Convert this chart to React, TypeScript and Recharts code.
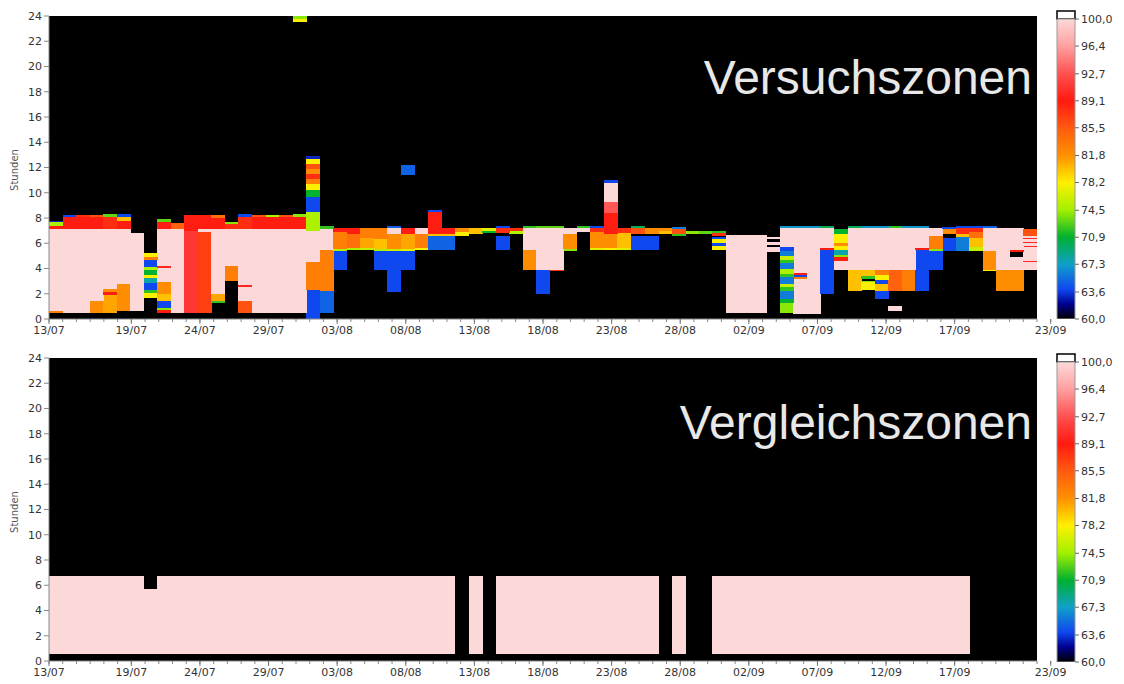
import React from "react";
import { BarChart, Bar, XAxis, YAxis, CartesianGrid, Cell, ReferenceArea } from "recharts";

// one entry per day, 13/07 .. 23/09
const dayLabels = [
  "13/07", "14/07", "15/07", "16/07", "17/07", "18/07", "19/07", "20/07", "21/07", "22/07",
  "23/07", "24/07", "25/07", "26/07", "27/07", "28/07", "29/07", "30/07", "31/07", "01/08",
  "02/08", "03/08", "04/08", "05/08", "06/08", "07/08", "08/08", "09/08", "10/08", "11/08",
  "12/08", "13/08", "14/08", "15/08", "16/08", "17/08", "18/08", "19/08", "20/08", "21/08",
  "22/08", "23/08", "24/08", "25/08", "26/08", "27/08", "28/08", "29/08", "30/08", "31/08",
  "01/09", "02/09", "03/09", "04/09", "05/09", "06/09", "07/09", "08/09", "09/09", "10/09",
  "11/09", "12/09", "13/09", "14/09", "15/09", "16/09", "17/09", "18/09", "19/09", "20/09",
  "21/09", "22/09", "23/09",
];

const xTickDays = [0, 6, 11, 16, 21, 26, 31, 36, 41, 46, 51, 56, 61, 66, 73];
const xTickLabels = ["13/07", "19/07", "24/07", "29/07", "03/08", "08/08", "13/08", "18/08", "23/08", "28/08", "02/09", "07/09", "12/09", "17/09", "23/09"];
const hourTicks = [0, 2, 4, 6, 8, 10, 12, 14, 16, 18, 20, 22, 24];
const colorTicks = [60, 63.6, 67.3, 70.9, 74.5, 78.2, 81.8, 85.5, 89.1, 92.7, 96.4, 100];

// colour scale of the legend bar
const scaleStops: [number, string][] = [
  [60, "#000000"],
  [62, "#000090"],
  [64, "#1048f0"],
  [67.3, "#10a0c8"],
  [70.9, "#00b030"],
  [74.5, "#a0f000"],
  [78.2, "#fff000"],
  [81.8, "#ff9000"],
  [85.5, "#ff5a10"],
  [89.1, "#ff1a10"],
  [92.7, "#ff5050"],
  [96.4, "#ffa0a0"],
  [100, "#fcd8d8"],
];

type Seg = [number, number | null]; // [upper hour, value] from the bottom up, null = no data

// Versuchszonen
const versuchSegs: Seg[][] = [
  [[0.5, null], [0.65, 83], [7.1, 100], [7.4, 89], [7.65, 75], [7.8, 63]],
  [[0.45, null], [7.1, 100], [8.1, 89], [8.25, 64]],
  [[0.45, null], [7.1, 100], [8.1, 89], [8.25, 88]],
  [[0.45, null], [1.4, 82], [7.1, 100], [8.1, 89], [8.25, 86]],
  [[0.45, null], [1.9, 81], [2.1, 89], [2.4, 82], [7.1, 100], [8.1, 88], [8.35, 73]],
  [[0.6, null], [2.8, 82], [7.1, 100], [7.8, 89], [8.1, 80], [8.3, 64]],
  [[0.6, null], [6.8, 100]],
  [[1.7, null], [2.05, 78], [2.3, 72], [2.85, 64], [3.25, 68], [3.5, 78], [3.85, 71], [4.15, 75], [4.65, 64], [4.9, 83], [5.2, 78]],
  [[0.5, null], [0.7, 89], [0.9, 74], [1.4, 64], [2.0, 80], [2.9, 82], [4.05, 100], [4.2, 90], [7.1, 100], [7.7, 89], [7.9, 73]],
  [[0.5, null], [7.1, 100], [7.6, 85]],
  [[0.5, null], [7.0, 91], [8.2, 89]],
  [[0.5, null], [6.9, 87], [7.1, 100], [8.2, 89]],
  [[1.3, null], [1.45, 72], [2.0, 81], [7.1, 100], [8.0, 89], [8.2, 84]],
  [[3.0, null], [4.2, 83], [7.1, 100], [7.5, 88], [7.7, 74]],
  [[0.5, null], [1.4, 86], [2.55, 100], [2.7, 90], [7.1, 100], [8.1, 88], [8.3, 64]],
  [[0.45, null], [7.1, 100], [8.1, 89], [8.25, 86]],
  [[0.45, null], [7.1, 100], [8.1, 89], [8.25, 75]],
  [[0.45, null], [7.1, 100], [8.1, 89], [8.2, 86]],
  [[0.45, null], [7.1, 100], [8.1, 89], [8.3, 74], [23.5, null], [23.8, 78], [24, 74]],
  [[2.3, 64], [4.5, 83], [7.0, 100], [8.5, 75], [9.7, 64], [10.2, 71], [10.7, 78], [11.1, 83], [11.5, 88], [11.9, 82], [12.3, 86], [12.65, 78], [12.95, 63]],
  [[0.5, null], [2.2, 65], [5.5, 83], [7.1, 100], [7.35, 72]],
  [[3.9, null], [5.4, 64], [5.55, 75], [6.9, 83], [7.2, 89]],
  [[5.5, null], [5.6, 75], [6.7, 84], [7.2, 89]],
  [[5.5, null], [5.6, 76], [6.4, 81], [7.2, 83]],
  [[3.9, null], [5.4, 64], [5.55, 75], [6.3, 80], [7.2, 83]],
  [[2.1, null], [5.4, 64], [5.55, 76], [6.7, 82], [7.2, 100], [7.4, 65]],
  [[3.9, null], [5.4, 64], [5.55, 77], [6.7, 81], [7.2, 89], [11.4, null], [12.2, 65]],
  [[5.5, null], [5.6, 78], [6.7, 83], [7.2, 100]],
  [[5.5, null], [6.6, 65], [6.7, 80], [8.5, 89], [8.6, 64]],
  [[5.5, null], [6.6, 65], [6.7, 80], [7.2, 89]],
  [[6.6, null], [6.9, 78], [7.2, 82]],
  [[6.7, null], [7.2, 80]],
  [[6.8, null], [7.0, 71], [7.2, 77]],
  [[5.5, null], [6.6, 64], [6.8, null], [7.2, 88], [7.35, 64]],
  [[6.7, null], [7.0, 75], [7.2, 88]],
  [[3.9, null], [5.5, 82], [7.2, 100], [7.35, 72]],
  [[2.0, null], [3.9, 64], [7.2, 100], [7.35, 73]],
  [[3.8, null], [3.9, 88], [7.2, 100], [7.35, 73]],
  [[5.4, null], [5.55, 74], [6.7, 82], [7.2, 100]],
  [[6.9, null], [7.2, 100], [7.35, 72]],
  [[5.5, null], [5.6, 77], [6.9, 82], [7.2, 88], [7.35, 64]],
  [[5.5, null], [5.6, 78], [6.7, 82], [8.4, 89], [9.3, 93], [10.8, 100], [11.0, 64]],
  [[5.5, null], [5.6, 77], [6.8, 80], [7.2, 88]],
  [[5.5, null], [6.6, 64], [6.7, null], [7.2, 86], [7.35, 70]],
  [[5.5, null], [6.6, 64], [6.7, null], [7.2, 82]],
  [[6.7, null], [7.0, 80], [7.2, 82]],
  [[6.6, null], [6.7, 72], [7.1, 86], [7.3, 66]],
  [[6.7, null], [7.0, 74]],
  [[6.7, null], [7.0, 73]],
  [[5.5, null], [5.8, 78], [6.0, 64], [6.3, 78], [6.5, 64], [6.6, null], [6.8, 88], [7.0, 72]],
  [[0.5, null], [6.66, 100]],
  [[0.5, null], [6.66, 100]],
  [[0.5, null], [6.66, 100]],
  [[5.3, null], [5.7, 100], [5.85, null], [6.1, 100], [6.3, null], [6.5, 100]],
  [[0.5, null], [1.3, 74], [1.6, 71], [2.2, 66], [2.5, 72], [2.8, 76], [3.3, 66], [3.6, 72], [4.0, 75], [4.4, 66], [4.7, 72], [5.0, 76], [5.4, 66], [5.7, 64], [7.2, 100], [7.35, 67]],
  [[0.4, null], [3.2, 100], [3.35, 83], [3.5, 64], [3.65, 89], [7.2, 100], [7.35, 67]],
  [[0.4, null], [7.2, 100], [7.35, 67]],
  [[2.0, null], [5.5, 64], [5.6, 89], [7.2, 100], [7.35, 70]],
  [[3.9, null], [4.6, 100], [4.9, 89], [5.1, 74], [5.5, 68], [5.8, 78], [6.0, 82], [6.7, 78], [7.1, 71]],
  [[2.2, null], [3.9, 80], [7.2, 100], [7.35, 70]],
  [[2.3, null], [2.9, 78], [3.0, 74], [3.2, null], [3.4, 72], [3.9, 80], [7.2, 100], [7.35, 67]],
  [[1.6, null], [2.2, 64], [2.8, 80], [3.1, 64], [3.5, 78], [3.9, 83], [7.2, 100], [7.35, 67]],
  [[0.6, null], [1.0, 100], [2.2, null], [3.9, 85], [7.2, 100], [7.35, 72]],
  [[2.2, null], [3.9, 83], [7.2, 100], [7.35, 67]],
  [[2.2, null], [5.5, 64], [5.6, 89], [7.2, 100], [7.35, 67]],
  [[3.9, null], [5.4, 64], [5.55, 74], [6.6, 83], [7.2, 100]],
  [[5.4, null], [6.4, 64], [6.7, null], [7.1, 82], [7.3, 64]],
  [[5.4, null], [6.5, 66], [6.7, 80], [7.2, 88], [7.35, 64]],
  [[5.4, null], [5.7, 76], [6.4, 80], [6.9, 84], [7.2, 88], [7.35, 64]],
  [[3.8, null], [3.9, 78], [5.4, 82], [7.2, 100], [7.35, 65]],
  [[2.2, null], [3.9, 82], [7.2, 100]],
  [[2.2, null], [3.9, 82], [4.9, 100], [5.3, null], [5.5, 89], [7.2, 100]],
  [[3.9, null], [4.5, 100], [4.6, 90], [5.7, 100], [5.8, 90], [6.0, 100], [6.1, 90], [6.3, 100], [6.4, 90], [6.6, 100], [7.1, 86]],
];

// Vergleichszonen: wet from 0.55 h up to this hour (0 = no data)
const vergleichTop = [
  6.75, 6.75, 6.75, 6.75, 6.75, 6.75, 6.75, 5.72, 6.75, 6.75,
  6.75, 6.75, 6.75, 6.75, 6.75, 6.75, 6.75, 6.75, 6.75, 6.75,
  6.75, 6.75, 6.75, 6.75, 6.75, 6.75, 6.75, 6.75, 6.75, 6.75,
  0, 6.75, 0, 6.75, 6.75, 6.75, 6.75, 6.75, 6.75, 6.75,
  6.75, 6.75, 6.75, 6.75, 6.75, 0, 6.75, 0, 0, 6.75,
  6.75, 6.75, 6.75, 6.75, 6.75, 6.75, 6.75, 6.75, 6.75, 6.75,
  6.75, 6.75, 6.75, 6.75, 6.75, 6.75, 6.75, 6.75, 0, 0,
  0, 0, 0,
];
const vergleichSegs: Seg[][] = vergleichTop.map((t) => (t > 0 ? [[0.55, null], [t, 100]] : []));

const FONT = "'DejaVu Sans', Verdana, sans-serif";

function hex(c: string) {
  return [1, 3, 5].map((i) => parseInt(c.slice(i, i + 2), 16));
}

function colorOf(v: number | null | undefined) {
  if (v == null) return "transparent";
  for (let i = 1; i < scaleStops.length; i++) {
    const [v1, c1] = scaleStops[i];
    if (v <= v1) {
      const [v0, c0] = scaleStops[i - 1];
      const t = Math.max(0, (v - v0) / (v1 - v0));
      const a = hex(c0);
      const b = hex(c1);
      return `rgb(${a.map((x, k) => Math.round(x + (b[k] - x) * t)).join(",")})`;
    }
  }
  return scaleStops[scaleStops.length - 1][1];
}

function buildRows(segs: Seg[][]) {
  return dayLabels.map((day, i) => {
    const row: Record<string, any> = { day };
    let prev = 0;
    (segs[i] || []).forEach(([top, v], k) => {
      row[`s${k}`] = top - prev;
      row[`c${k}`] = v;
      prev = top;
    });
    return row;
  });
}

const minorTicks = Array.from({ length: 74 }, (_, i) => i);

const XTick = (props: any) => {
  const { x, y, payload } = props;
  const i = xTickDays.indexOf(payload.value);
  if (i < 0) return <g />;
  return (
    <g>
      <line x1={x} x2={x} y1={y - 6} y2={y - 1} stroke="#777" />
      <text x={x} y={y + 1} dy="0.71em" textAnchor="middle" fontSize={11} fill="#333" fontFamily={FONT}>
        {xTickLabels[i]}
      </text>
    </g>
  );
};

function HeatPanel({ segs }: { segs: Seg[][] }) {
  const rows = buildRows(segs);
  const levels = Math.max(...segs.map((s) => s.length));
  return (
    <BarChart
      className="heat"
      width={1124}
      height={340}
      data={rows}
      margin={{ top: 16, right: 87, bottom: 1, left: 4 }}
      barCategoryGap={0}
      barGap={0}
    >
      <CartesianGrid xAxisId="num" fill="#000" stroke="none" horizontal={false} vertical={false} />
      <XAxis xAxisId="cat" dataKey="day" type="category" orientation="top" height={0} hide />
      <XAxis
        xAxisId="num"
        type="number"
        domain={[0, 73]}
        ticks={minorTicks}
        interval={0}
        height={20}
        tickSize={3}
        tickMargin={3}
        stroke="#888"
        tick={<XTick />}
        allowDataOverflow
      />
      <YAxis
        type="number"
        domain={[0, 24]}
        ticks={hourTicks}
        interval={0}
        width={45}
        tickSize={5}
        tickMargin={2}
        stroke="#888"
        tick={{ fontSize: 11, fill: "#333", fontFamily: FONT }}
        allowDataOverflow
      />
      {Array.from({ length: levels }, (_, k) => (
        <Bar key={k} dataKey={`s${k}`} stackId="a" xAxisId="cat" isAnimationActive={false}>
          {rows.map((r, i) => (
            <Cell key={i} fill={colorOf(r[`c${k}`])} />
          ))}
        </Bar>
      ))}
    </BarChart>
  );
}

function ColorBar({ id }: { id: string }) {
  return (
    <BarChart
      width={84}
      height={340}
      data={[{ name: "scale", range: [60, 100] }]}
      margin={{ top: 11, right: 0, bottom: 21, left: 17 }}
      barCategoryGap={0}
    >
      <defs>
        <linearGradient id={id} x1="0" y1="1" x2="0" y2="0">
          {scaleStops.map(([v, c]) => (
            <stop key={v} offset={`${((v - 60) / 40) * 100}%`} stopColor={c} />
          ))}
        </linearGradient>
      </defs>
      <XAxis dataKey="name" hide />
      <YAxis
        orientation="right"
        type="number"
        domain={[60, 101.07]}
        ticks={colorTicks}
        interval={0}
        width={49}
        axisLine={false}
        tickSize={4}
        tickMargin={2}
        stroke="#666"
        tickFormatter={(v: number) => v.toFixed(1).replace(".", ",")}
        tick={{ fontSize: 11, fill: "#333", fontFamily: FONT }}
        allowDataOverflow
      />
      <Bar dataKey="range" fill={`url(#${id})`} stroke="#999" isAnimationActive={false} />
      <ReferenceArea y1={100} y2={101.07} fill="#fff" fillOpacity={1} stroke="#000" strokeWidth={1.5} ifOverflow="visible" />
    </BarChart>
  );
}

const titleStyle: React.CSSProperties = {
  position: "absolute",
  right: 1124 - 1032,
  fontFamily: "'Liberation Sans', Arial, sans-serif",
  fontSize: 48,
  lineHeight: 1,
  color: "#e8e8e8",
  whiteSpace: "nowrap",
};

const axisTitleStyle: React.CSSProperties = {
  position: "absolute",
  left: 14,
  transform: "translate(-50%, -50%) rotate(-90deg)",
  fontFamily: FONT,
  fontSize: 10,
  color: "#555",
};

export default function App() {
  return (
    <div style={{ position: "absolute", left: 0, top: 0, width: 1124, height: 684, background: "#fff", overflow: "hidden" }}>
      <style>{`.heat .recharts-bar-rectangle path, .heat .recharts-bar-rectangle rect { shape-rendering: crispEdges; }`}</style>
      <div style={{ position: "absolute", left: 0, top: 0 }}>
        <HeatPanel segs={versuchSegs} />
      </div>
      <div style={{ position: "absolute", left: 0, top: 342 }}>
        <HeatPanel segs={vergleichSegs} />
      </div>
      <div style={{ position: "absolute", left: 1040, top: 0 }}>
        <ColorBar id="cbTop" />
      </div>
      <div style={{ position: "absolute", left: 1040, top: 343 }}>
        <ColorBar id="cbBottom" />
      </div>
      <div style={{ ...titleStyle, top: 54 }}>Versuchszonen</div>
      <div style={{ ...titleStyle, top: 399 }}>Vergleichszonen</div>
      <div style={{ ...axisTitleStyle, top: 170 }}>Stunden</div>
      <div style={{ ...axisTitleStyle, top: 512 }}>Stunden</div>
    </div>
  );
}
